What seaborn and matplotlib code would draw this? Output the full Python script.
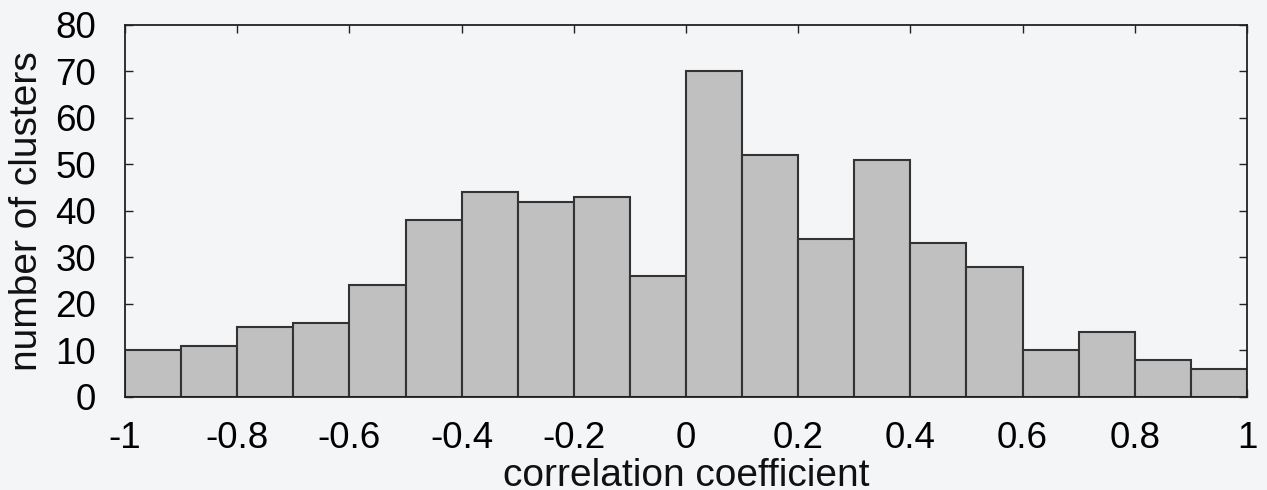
import matplotlib
matplotlib.use("Agg")
import matplotlib.pyplot as plt
import seaborn as sns
import numpy as np
import pandas as pd

bin_edges = [-1.0, -0.9, -0.8, -0.7, -0.6, -0.5, -0.4, -0.3, -0.2, -0.1, 0.0,
             0.1, 0.2, 0.3, 0.4, 0.5, 0.6, 0.7, 0.8, 0.9, 1.0]
counts = [10, 11, 15, 16, 24, 38, 44, 42, 43, 26, 70, 52, 34, 51, 33, 28, 10, 14, 8, 6]
x_ticks = [-1, -0.8, -0.6, -0.4, -0.2, 0, 0.2, 0.4, 0.6, 0.8, 1]
x_tick_labels = ["-1", "-0.8", "-0.6", "-0.4", "-0.2", "0", "0.2", "0.4", "0.6", "0.8", "1"]
y_ticks = [0, 10, 20, 30, 40, 50, 60, 70, 80]

sns.set_style("ticks")
plt.rcParams['font.family'] = ['Liberation Sans', 'DejaVu Sans']

centers = [(bin_edges[i] + bin_edges[i + 1]) / 2 for i in range(len(counts))]
df = pd.DataFrame({"r": centers, "n": counts})

bg = "#f4f5f7"
fig = plt.figure(figsize=(12.67, 4.9), dpi=100, facecolor=bg)
ax = fig.add_axes([0.0987, 0.190, 0.8855, 0.759])
ax.set_facecolor(bg)

sns.histplot(data=df, x="r", weights="n", bins=bin_edges, ax=ax,
             color="#c0c0c0", edgecolor="#333333", linewidth=1.5, alpha=1.0)

ax.set_xlim(-1, 1)
ax.set_ylim(0, 80)
ax.set_xticks(x_ticks)
ax.set_xticklabels(x_tick_labels)
ax.set_yticks(y_ticks)
ax.tick_params(direction="in", length=6, width=1, top=True, right=True,
               labelsize=26.5, colors="#222222", labelcolor="black")
ax.tick_params(axis="x", pad=17)
ax.tick_params(axis="y", pad=21)
for s in ax.spines.values():
    s.set_visible(True)
    s.set_linewidth(1.3)
    s.set_color("#222222")
ax.set_xlabel("correlation coefficient", fontsize=28, color="#111111", va="baseline")
ax.set_ylabel("number of clusters", fontsize=28, color="#111111")
ax.xaxis.set_label_coords(0.5, -0.239)
ax.yaxis.set_label_coords(-0.071, 0.5)

fig.savefig("out.png", dpi=100, facecolor=bg)
